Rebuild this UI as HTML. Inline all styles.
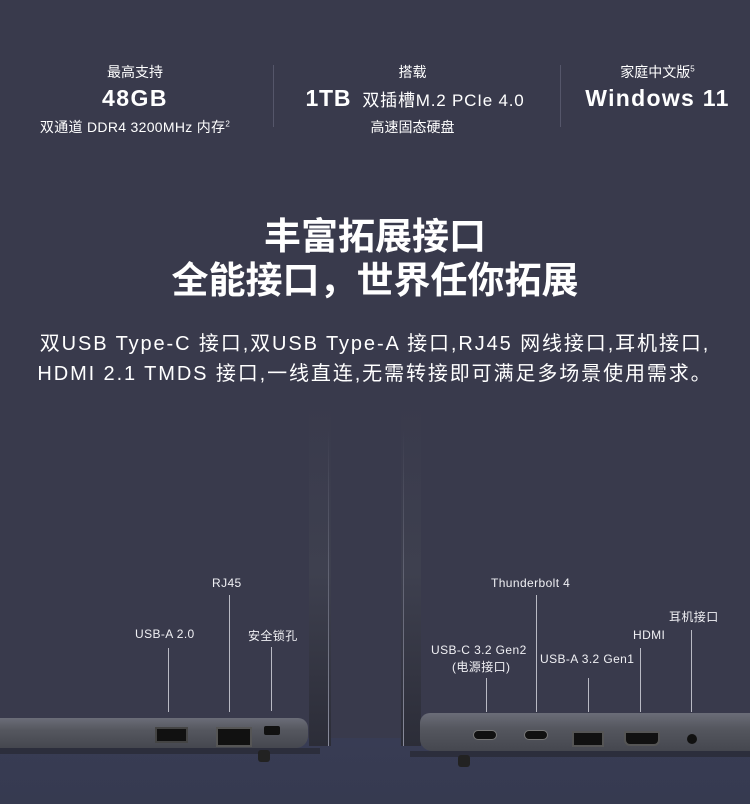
<!DOCTYPE html>
<html><head><meta charset="utf-8"><style>
*{margin:0;padding:0;box-sizing:border-box}
body{width:750px;height:804px;overflow:hidden;background:#393a4c;font-family:"Liberation Sans","Noto Sans CJK SC",sans-serif;color:#fff;position:relative}
.a{position:absolute}
.c{text-align:center}
.ln{position:absolute;width:1px;background:#b9bac4}
.lb{position:absolute;font-size:12px;color:#f0f0f4;white-space:nowrap;letter-spacing:0.4px}
</style></head><body>
<div class="a" style="left:0;top:738px;width:750px;height:66px;background:linear-gradient(#383c54,#363a50)"></div>

<div class="a c" style="left:30px;top:62px;width:210px;font-size:14px">最高支持</div>
<div class="a c" style="left:30px;top:85px;width:210px;font-size:23px;font-weight:bold;letter-spacing:1.5px">48GB</div>
<div class="a c" style="left:10px;top:117px;width:250px;font-size:14px;letter-spacing:0.3px">双通道 DDR4 3200MHz 内存<sup style="font-size:8px">2</sup></div>
<div class="a" style="left:273px;top:65px;width:1px;height:62px;background:#55566a"></div>
<div class="a c" style="left:290px;top:62px;width:245px;font-size:14px">搭载</div>
<div class="a c" style="left:280px;top:85px;width:270px;font-size:17px;letter-spacing:0.8px"><b style="font-size:23px">1TB</b>&nbsp; 双插槽M.2 PCIe 4.0</div>
<div class="a c" style="left:290px;top:117px;width:245px;font-size:14px">高速固态硬盘</div>
<div class="a" style="left:560px;top:65px;width:1px;height:62px;background:#55566a"></div>
<div class="a c" style="left:570px;top:62px;width:175px;font-size:14px">家庭中文版<sup style="font-size:8px">5</sup></div>
<div class="a c" style="left:560px;top:85px;width:195px;font-size:23px;font-weight:bold;letter-spacing:1.3px">Windows 11</div>

<div class="a c" style="left:0;top:215px;width:750px;font-size:37px;font-weight:bold;line-height:44px">丰富拓展接口<br>全能接口，世界任你拓展</div>
<div class="a c" style="left:-10px;top:329px;width:770px;font-size:20px;line-height:30px;letter-spacing:1.9px">双USB Type-C 接口,双USB Type-A 接口,RJ45 网线接口,耳机接口,<br>HDMI 2.1 TMDS 接口,一线直连,无需转接即可满足多场景使用需求。</div>

<!-- left laptop -->
<div class="a" style="left:309px;top:400px;width:22px;height:346px;background:linear-gradient(180deg,rgba(60,62,78,0),#3e404f 50%,#2c2d38)"></div>
<div class="a" style="left:328px;top:430px;width:1px;height:316px;background:linear-gradient(rgba(150,152,170,0),#8a8c9c)"></div>
<div class="a" style="left:0;top:718px;width:308px;height:30px;background:linear-gradient(#6b6d78,#55575f 40%,#45474f);border-radius:0 10px 12px 0"></div>
<div class="a" style="left:0;top:748px;width:320px;height:6px;background:#2c2e3c"></div>
<div class="a" style="left:155px;top:727px;width:33px;height:16px;background:#111;border:2px solid #444"></div>
<div class="a" style="left:216px;top:727px;width:36px;height:20px;background:#111;border:2px solid #555"></div>
<div class="a" style="left:264px;top:726px;width:16px;height:9px;background:#111;border-radius:2px"></div>
<div class="a" style="left:258px;top:750px;width:12px;height:12px;background:#222;border-radius:3px"></div>
<div class="lb" style="left:212px;top:576px">RJ45</div>
<div class="lb" style="left:135px;top:627px">USB-A 2.0</div>
<div class="lb" style="left:248px;top:627px">安全锁孔</div>
<div class="ln" style="left:168px;top:648px;height:64px"></div>
<div class="ln" style="left:229px;top:595px;height:117px"></div>
<div class="ln" style="left:271px;top:647px;height:64px"></div>

<!-- right laptop -->
<div class="a" style="left:401px;top:400px;width:20px;height:346px;background:linear-gradient(180deg,rgba(60,62,78,0),#3e404f 50%,#2c2d38)"></div>
<div class="a" style="left:403px;top:430px;width:1px;height:316px;background:linear-gradient(rgba(150,152,170,0),#8a8c9c)"></div>
<div class="a" style="left:420px;top:713px;width:330px;height:38px;background:linear-gradient(#6b6d78,#55575f 40%,#45474f);border-radius:10px 0 0 12px"></div>
<div class="a" style="left:410px;top:751px;width:340px;height:6px;background:#2c2e3c"></div>
<div class="a" style="left:473px;top:730px;width:24px;height:10px;background:#111;border-radius:5px;border:1px solid #777"></div>
<div class="a" style="left:524px;top:730px;width:24px;height:10px;background:#111;border-radius:5px;border:1px solid #777"></div>
<div class="a" style="left:572px;top:731px;width:32px;height:16px;background:#111;border:2px solid #555"></div>
<div class="a" style="left:624px;top:731px;width:36px;height:15px;background:#111;border-radius:2px 2px 6px 6px;border:2px solid #555"></div>
<div class="a" style="left:687px;top:734px;width:10px;height:10px;background:#111;border-radius:50%"></div>
<div class="a" style="left:458px;top:755px;width:12px;height:12px;background:#222;border-radius:3px"></div>
<div class="lb" style="left:491px;top:576px">Thunderbolt 4</div>
<div class="lb" style="left:669px;top:608px">耳机接口</div>
<div class="lb" style="left:633px;top:628px">HDMI</div>
<div class="lb" style="left:431px;top:643px">USB-C 3.2 Gen2</div>
<div class="lb" style="left:452px;top:658px">(电源接口)</div>
<div class="lb" style="left:540px;top:652px">USB-A 3.2 Gen1</div>
<div class="ln" style="left:486px;top:678px;height:34px"></div>
<div class="ln" style="left:536px;top:595px;height:117px"></div>
<div class="ln" style="left:588px;top:678px;height:34px"></div>
<div class="ln" style="left:640px;top:648px;height:64px"></div>
<div class="ln" style="left:691px;top:630px;height:82px"></div>
</body></html>
